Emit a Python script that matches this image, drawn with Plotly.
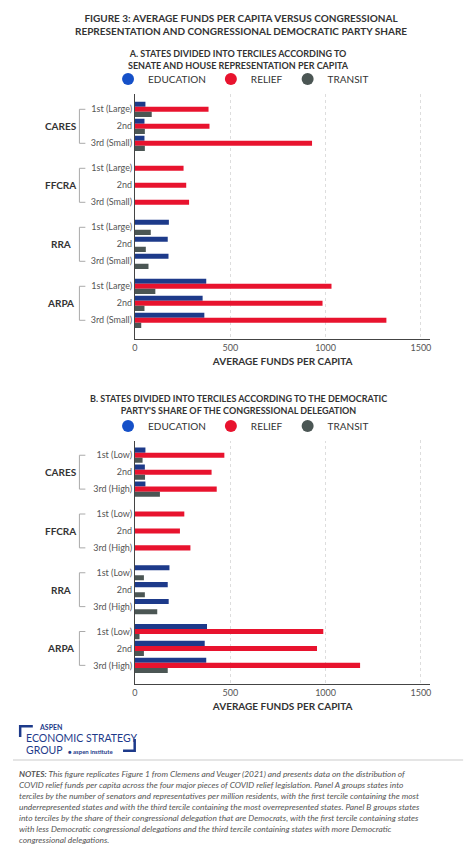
import plotly.graph_objects as go

# --- DATA ---
programs = ["CARES", "FFCRA", "RRA", "ARPA"]
terciles_a = ["1st (Large)", "2nd", "3rd (Small)"]
terciles_b = ["1st (Low)", "2nd", "3rd (High)"]

# Panel A: representation per capita (rows: CARES x3, FFCRA x3, RRA x3, ARPA x3)
edu_a = [55, 50, 50, 0, 0, 0, 178, 172, 176, 374, 355, 364]
relief_a = [386, 391, 929, 255, 269, 284, 0, 0, 0, 1031, 984, 1319]
transit_a = [88, 52, 52, 0, 0, 0, 83, 57, 71, 107, 50, 33]

# Panel B: Democratic share of delegation
edu_b = [55, 52, 55, 0, 0, 0, 181, 172, 177, 378, 366, 374]
relief_b = [469, 402, 429, 259, 236, 291, 0, 0, 0, 988, 955, 1181]
transit_b = [40, 53, 131, 0, 0, 0, 47, 52, 117, 24, 47, 172]

series_names = ["EDUCATION", "RELIEF", "TRANSIT"]
bar_colors = ["#1d3a8a", "#e8132e", "#4b5654"]
dot_colors = ["#1550c8", "#e8132e", "#4b5654"]

FONT = "Lato"
DARK = "#333333"
GROUP_PITCH = 3.47
W, H = 474, 851
OFF = 8  # page body margin


def px(x):
    return (x - OFF) / W


def py(y):
    return 1 - (y - OFF) / H


# row positions (layout only)
rows = [g * GROUP_PITCH + t for g in range(len(programs)) for t in range(3)]

fig = go.Figure()

panels = [
    ("x", "y", [edu_a, relief_a, transit_a], "legend"),
    ("x2", "y2", [edu_b, relief_b, transit_b], "legend2"),
]
for xa, ya, vals, leg in panels:
    for name, v, c in zip(series_names, vals, bar_colors):
        fig.add_trace(go.Bar(
            x=v, y=rows, orientation="h", marker=dict(color=c, line_width=0),
            xaxis=xa, yaxis=ya, showlegend=False, name=name,
        ))
    for name, dc in zip(series_names, dot_colors):
        fig.add_trace(go.Scatter(
            x=[None], y=[None], mode="markers", name=name,
            marker=dict(color=dc, size=12, symbol="circle"),
            xaxis=xa, yaxis=ya, legend=leg,
        ))

y_range = [rows[-1] + 1.1, -0.9]
tick_text_a = [t for _ in programs for t in terciles_a]
tick_text_b = [t for _ in programs for t in terciles_b]

axis_x = dict(
    range=[0, 1550], tickvals=[0, 500, 1000, 1500], showgrid=True,
    gridcolor="#dddddd", griddash="dot", gridwidth=1, showline=True,
    linecolor="#444444", linewidth=1, zeroline=False,
    tickfont=dict(size=9, color="#555555", family=FONT), ticks="",
    title=dict(text="<b>AVERAGE FUNDS PER CAPITA</b>", font=dict(size=10, color=DARK, family=FONT), standoff=6),
)
axis_y = dict(range=y_range, showgrid=False, zeroline=False, showline=True,
              linecolor="#444444", linewidth=1, ticks="",
              tickfont=dict(size=9, color="#555555", family=FONT))

legend_style = dict(orientation="h", x=px(240), xanchor="center", yanchor="middle",
                    font=dict(size=10, color=DARK, family=FONT), itemwidth=30, traceorder="normal")

fig.update_layout(
    width=W, height=H, margin=dict(l=0, r=0, t=0, b=0),
    paper_bgcolor="white", plot_bgcolor="white",
    barmode="group", bargap=0.1, bargroupgap=0,
    font=dict(family=FONT, color=DARK),
    xaxis=dict(axis_x, domain=[px(133), px(431)], anchor="y"),
    yaxis=dict(axis_y, domain=[py(339), py(94)], anchor="x", tickvals=rows, ticktext=tick_text_a),
    xaxis2=dict(axis_x, domain=[px(133), px(431)], anchor="y2"),
    yaxis2=dict(axis_y, domain=[py(684), py(440)], anchor="x2", tickvals=rows, ticktext=tick_text_b),
    legend=dict(legend_style, y=py(79)),
    legend2=dict(legend_style, y=py(426)),
)

ann = []
shapes = []


def text(t, x, y, size, color=DARK, xanchor="center", yanchor="middle", **kw):
    ann.append(dict(text=t, x=x, y=y, xref="paper", yref="paper", showarrow=False,
                    xanchor=xanchor, yanchor=yanchor,
                    font=dict(size=size, color=color, family=FONT), **kw))


text("<b>FIGURE 3: AVERAGE FUNDS PER CAPITA VERSUS CONGRESSIONAL<br>REPRESENTATION AND CONGRESSIONAL DEMOCRATIC PARTY SHARE</b>",
     px(240), py(24), 10)
text("<b>A. STATES DIVIDED INTO TERCILES ACCORDING TO<br>SENATE AND HOUSE REPRESENTATION PER CAPITA</b>",
     px(237), py(59), 9)
text("<b>B. STATES DIVIDED INTO TERCILES ACCORDING TO THE DEMOCRATIC<br>PARTY'S SHARE OF THE CONGRESSIONAL DELEGATION</b>",
     px(237), py(405), 9)

for ya in ["y", "y2"]:
    for g, prog in enumerate(programs):
        y0 = rows[g * 3]
        y2 = rows[g * 3 + 2]
        ann.append(dict(text="<b>" + prog + "</b>", x=px(58), y=(y0 + y2) / 2, xref="paper", yref=ya,
                        xanchor="center", yanchor="middle",
                        showarrow=False, font=dict(size=10, color=DARK, family=FONT)))
        line = dict(color="#aaaaaa", width=1)
        shapes.append(dict(type="line", xref="paper", yref=ya, x0=px(77), x1=px(77), y0=y0, y1=y2, line=line))
        shapes.append(dict(type="line", xref="paper", yref=ya, x0=px(77), x1=px(83), y0=y0, y1=y0, line=line))
        shapes.append(dict(type="line", xref="paper", yref=ya, x0=px(77), x1=px(83), y0=y2, y1=y2, line=line))

# logo
BLUE = "#1d3a8a"
text("<b>ASPEN</b>", px(34), py(727), 7, BLUE, xanchor="left")
text("ECONOMIC STRATEGY", px(21), py(738), 10.5, BLUE, xanchor="left")
text("GROUP", px(21), py(750), 10.5, BLUE, xanchor="left")
text("<b>● aspen institute</b>", px(63), py(751), 6, BLUE, xanchor="left")
shapes.append(dict(type="path", xref="paper", yref="paper",
                   path="M %f %f L %f %f L %f %f L %f %f L %f %f L %f %f Z" % (
                       px(16), py(725), px(30), py(725), px(30), py(727.5),
                       px(18.5), py(727.5), px(18.5), py(737), px(16), py(737)),
                   fillcolor=BLUE, line_width=0))
shapes.append(dict(type="path", xref="paper", yref="paper",
                   path="M %f %f L %f %f L %f %f L %f %f L %f %f L %f %f Z" % (
                       px(131.5), py(739), px(134), py(739), px(134), py(752),
                       px(121), py(752), px(121), py(749.5), px(131.5), py(749.5)),
                   fillcolor=BLUE, line_width=0))
shapes.append(dict(type="line", xref="paper", yref="paper", x0=px(10), x1=px(464),
                   y0=py(760), y1=py(760), line=dict(color="#dddddd", width=1.5)))

notes = ("<b><i>NOTES:</i></b><i> This figure replicates Figure 1 from Clemens and Veuger (2021) and presents data on the distribution of<br>"
         "COVID relief funds per capita across the four major pieces of COVID relief legislation. Panel A groups states into<br>"
         "terciles by the number of senators and representatives per million residents, with the first tercile containing the most<br>"
         "underrepresented states and with the third tercile containing the most overrepresented states. Panel B groups states<br>"
         "into terciles by the share of their congressional delegation that are Democrats, with the first tercile containing states<br>"
         "with less Democratic congressional delegations and the third tercile containing states with more Democratic<br>"
         "congressional delegations.</i>")
text(notes, px(14), py(767), 8.4, "#555555", xanchor="left", yanchor="top", align="left")

fig.update_layout(annotations=ann, shapes=shapes)

fig.write_html("out.html")
